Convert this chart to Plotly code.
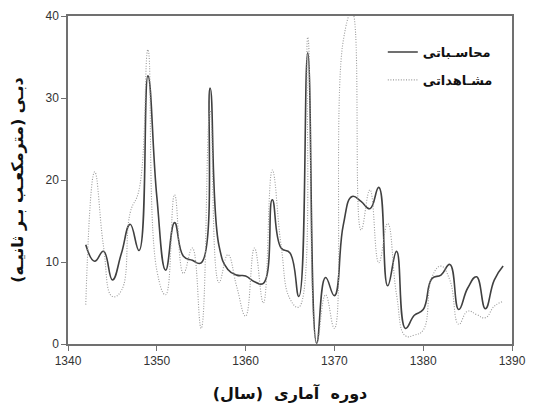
import plotly.graph_objects as go

years = list(range(1342, 1390))

calculated = [12.1, 10.1, 11.3, 7.8, 11.0, 14.6, 11.4, 32.7, 18.0, 9.0,
              14.8, 10.7, 10.2, 9.9, 31.2, 12.0, 9.1, 8.4, 8.3, 7.6,
              7.4, 17.6, 11.7, 11.1, 5.8, 35.5, 0.1, 8.1, 5.9, 14.5,
              18.0, 17.4, 16.5, 19.1, 7.1, 11.3, 1.9, 3.5, 4.2, 8.0,
              8.4, 9.7, 4.2, 6.8, 8.2, 4.3, 7.8, 9.5]

observed = [4.8, 21.0, 11.9, 5.8, 6.5, 16.0, 18.8, 35.9, 9.0, 6.0,
            18.2, 8.6, 11.7, 1.9, 28.5, 7.5, 10.9, 7.0, 3.4, 11.7,
            5.0, 21.2, 12.0, 5.5, 4.5, 37.4, 0.1, 6.0, 1.9, 37.0,
            40.5, 13.9, 18.8, 9.9, 14.7, 6.0, 1.0, 1.1, 1.7, 8.2,
            9.5, 7.8, 2.4, 4.0, 3.6, 3.2, 4.6, 5.2]

name_calc = "محاسـباتی"
name_obs = "مشـاهداتی"
x_title = "دوره  آماری  (سال)"
y_title = "دبـی (مترمکعـب بـر ثانیـه)"

x_ticks = [1340, 1350, 1360, 1370, 1380, 1390]
y_ticks = [0, 10, 20, 30, 40]

fig = go.Figure()
fig.add_trace(go.Scatter(
    x=years, y=calculated, mode="lines", name=name_calc,
    line=dict(color="#404040", width=1.6, shape="spline", smoothing=1.3),
    legendgroup="a"))
fig.add_trace(go.Scatter(
    x=years, y=observed, mode="lines", name=name_obs,
    line=dict(color="#9a9a9a", width=1.1, shape="spline", smoothing=1.3, dash="1px,1.6px"),
    legendgroup="b"))

axis_common = dict(showline=True, linecolor="#707070", linewidth=1.5, mirror=True,
                   showgrid=False, zeroline=False, ticks="outside", ticklen=5,
                   tickcolor="#707070", tickwidth=1, automargin=False,
                   tickfont=dict(family="Liberation Sans, Arial", size=12, color="#333333"))

# page body has an 8px default margin; compensate so the plot area lands where the reference has it
fig.update_layout(
    width=538, height=399,
    margin=dict(l=60, r=34, t=8, b=63, autoexpand=False),
    plot_bgcolor="white", paper_bgcolor="white",
    showlegend=True,
    legend=dict(x=0.709, y=0.936, xanchor="left", yanchor="top",
                bgcolor="rgba(0,0,0,0)", tracegroupgap=8,
                font=dict(family="Noto Sans, DejaVu Sans", size=13, color="#111111", weight="bold")),
    xaxis=dict(range=[1340, 1390], tickvals=x_ticks,
               title=dict(text=x_title, standoff=21,
                          font=dict(family="DejaVu Sans", size=16, color="#111111", weight="bold")),
               **axis_common),
    yaxis=dict(range=[0, 40], tickvals=y_ticks,
               title=dict(text=y_title, standoff=18,
                          font=dict(family="DejaVu Sans", size=16, color="#111111", weight="bold")),
               **axis_common),
)

fig.write_html("out.html")
